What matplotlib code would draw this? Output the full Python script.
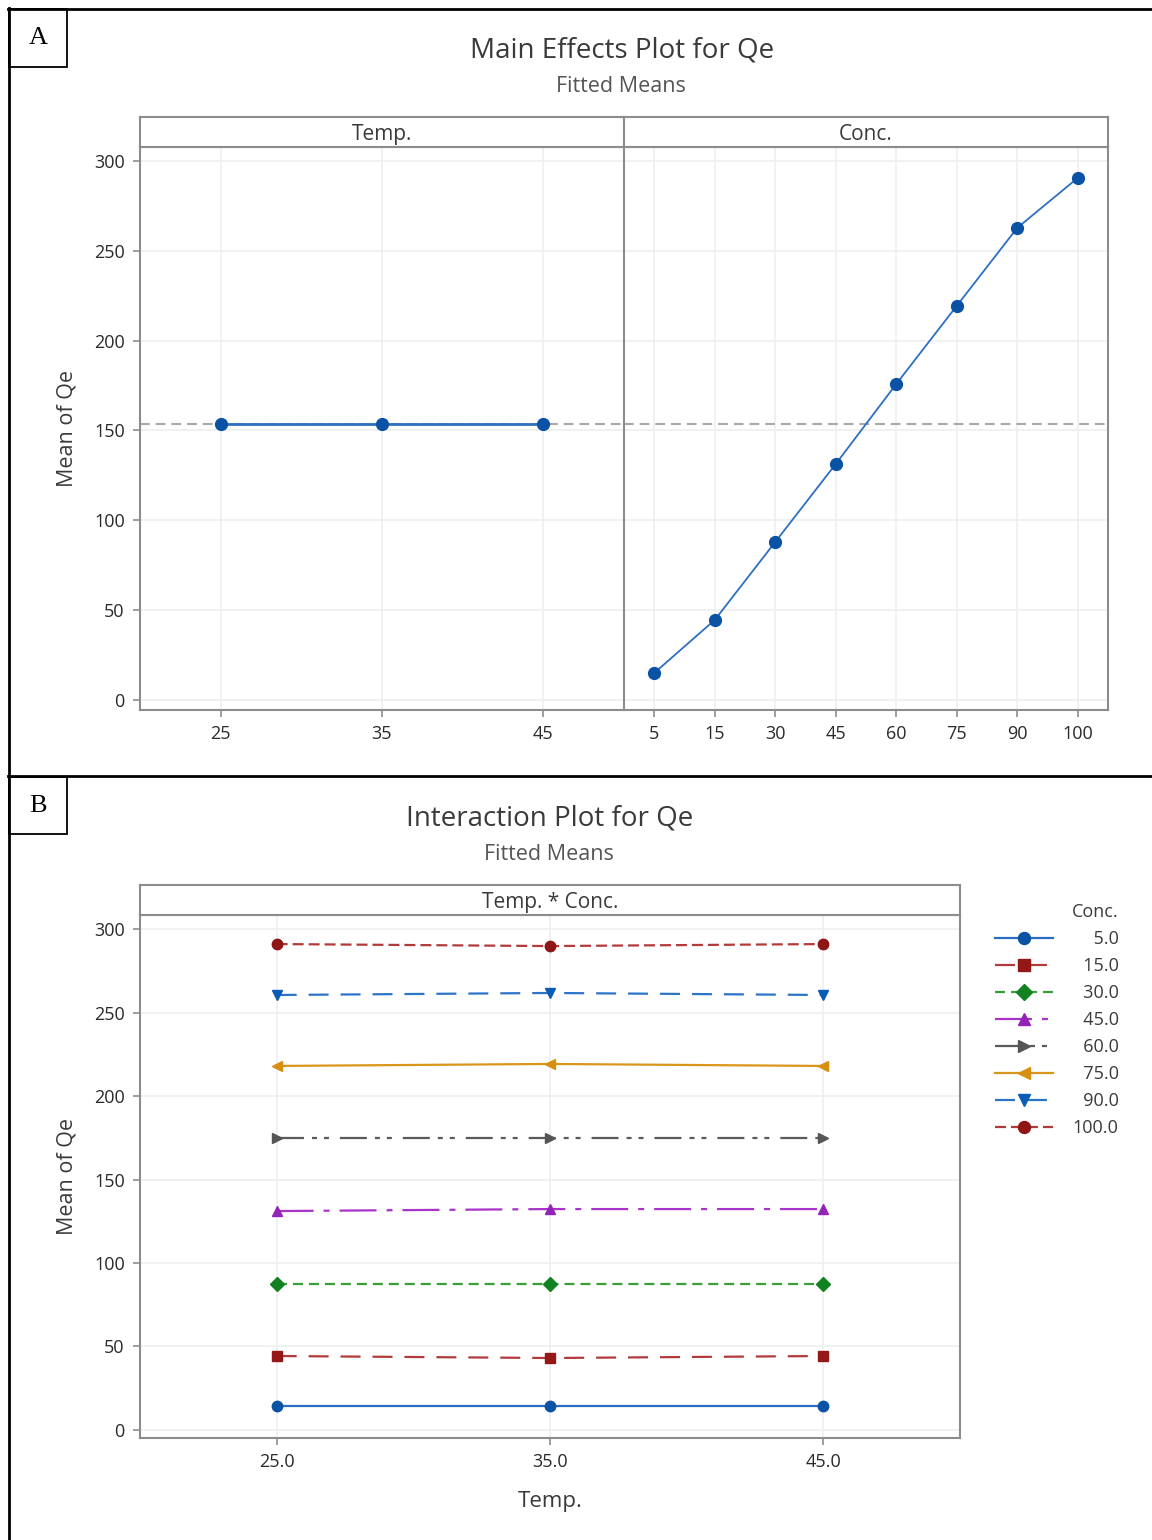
import numpy as np
import matplotlib
matplotlib.use("Agg")
import matplotlib.pyplot as plt
from matplotlib.lines import Line2D
from matplotlib.patches import Rectangle

plt.rcParams['font.family'] = ['Open Sans', 'DejaVu Sans']
plt.rcParams['lines.scale_dashes'] = False

# ---- data ----
temp_levels = ["25", "35", "45"]
temp_means = [153.5, 153.5, 153.5]

conc_levels = ["5", "15", "30", "45", "60", "75", "90", "100"]
conc_means = [15.0, 44.5, 87.9, 131.3, 175.8, 219.3, 262.7, 290.5]

inter_temps = ["25.0", "35.0", "45.0"]
inter_concs = ["5.0", "15.0", "30.0", "45.0", "60.0", "75.0", "90.0", "100.0"]
inter_values = {
    "5.0": [14.6, 14.6, 14.6],
    "15.0": [44.3, 43.1, 44.3],
    "30.0": [87.4, 87.4, 87.4],
    "45.0": [131.1, 132.3, 132.3],
    "60.0": [174.9, 174.9, 174.9],
    "75.0": [218.0, 219.2, 218.0],
    "90.0": [260.5, 261.7, 260.5],
    "100.0": [291.0, 289.8, 291.0],
}

# ---- styles for the interaction series ----
styles = {
    "5.0": dict(color="#2b6cc0", mfc="#0a52a4", marker="o", ls="-"),
    "15.0": dict(color="#b23a3a", mfc="#951818", marker="s", ls=(0, (14.4, 8.6))),
    "30.0": dict(color="#3a9e3a", mfc="#11821f", marker="D", ls=(0, (7.2, 4.3))),
    "45.0": dict(color="#a833c8", mfc="#9424b8", marker="^", ls=(0, (26.6, 7.2, 4.3, 7.2))),
    "60.0": dict(color="#5a5a5a", mfc="#555555", marker=">", ls=(0, (19.4, 5.8, 3.6, 5.0, 3.6, 7.9))),
    "75.0": dict(color="#d9961a", mfc="#d78f10", marker="<", ls="-"),
    "90.0": dict(color="#2d74c6", mfc="#0a5cb4", marker="v", ls=(0, (14.4, 8.6))),
    "100.0": dict(color="#b23a3a", mfc="#8e1616", marker="o", ls=(0, (7.9, 3.6))),
}

W, H = 1152, 1540
GRID = "#efefef"
SPINE = "#8c8c8c"
TXT = "#3a3a3a"


def rect(x0, y0, x1, y1):
    return [x0 / W, 1 - y1 / H, (x1 - x0) / W, (y1 - y0) / H]


def style_axes(ax):
    for s in ax.spines.values():
        s.set_color(SPINE)
        s.set_linewidth(1.5)
    ax.tick_params(colors=SPINE, labelcolor="#2a2a2a", labelsize=13, length=5, width=1.2, pad=6)
    ax.grid(True, color=GRID, lw=1.2)
    ax.set_axisbelow(True)


def strip(r, label):
    s = fig.add_axes(rect(*r))
    s.set_xticks([])
    s.set_yticks([])
    for sp in s.spines.values():
        sp.set_color(SPINE)
        sp.set_linewidth(1.5)
    s.text(0.5, 0.42, label, ha="center", va="center", fontsize=15, color=TXT, transform=s.transAxes)
    return s


fig = plt.figure(figsize=(W / 100, H / 100), dpi=100)

# outer frames and panel labels
fig.add_artist(Line2D([9 / W, 9 / W], [0, 1 - 8 / H], color="black", lw=2, transform=fig.transFigure))
fig.add_artist(Line2D([8 / W, 1], [1 - 9 / H, 1 - 9 / H], color="black", lw=2, transform=fig.transFigure))
fig.add_artist(Line2D([8 / W, 1], [1 - 776 / H, 1 - 776 / H], color="black", lw=2, transform=fig.transFigure))
for (x0, y0, x1, y1, lab) in [(9, 9, 67, 67, "A"), (9, 777, 67, 834, "B")]:
    fig.add_artist(Rectangle((x0 / W, 1 - y1 / H), (x1 - x0) / W, (y1 - y0) / H, fill=False,
                             ec="black", lw=1.3, transform=fig.transFigure))
    fig.text((x0 + x1) / 2 / W, 1 - (y0 + y1) / 2 / H, lab, ha="center", va="center",
             fontsize=19, family="Liberation Serif", color="black")

# ---------------- A: main effects ----------------
fig.text(622 / W, 1 - 50 / H, "Main Effects Plot for Qe", ha="center", va="center", fontsize=20, color=TXT)
fig.text(621 / W, 1 - 86 / H, "Fitted Means", ha="center", va="center", fontsize=15.5, color="#555555")

ax1 = fig.add_axes(rect(140, 147, 624, 710))
ax2 = fig.add_axes(rect(624, 147, 1108, 710), sharey=ax1)
strip((140, 117, 624, 147), "Temp.")
strip((624, 117, 1108, 147), "Conc.")

overall = np.mean(conc_means)
for ax, levels, means, lw in [(ax1, temp_levels, temp_means, 2.0), (ax2, conc_levels, conc_means, 1.3)]:
    style_axes(ax)
    x = np.arange(len(levels))
    ax.axhline(overall, color="#a8a8a8", lw=1.5, ls=(0, (7, 4.3)), zorder=1)
    ax.plot(x, means, color="#2d6fc1", lw=lw, marker="o", ms=8.5, mfc="#0a52a4", mec="#0a52a4", zorder=3)
    ax.set_xticks(x)
    ax.set_xticklabels(levels)
    ax.set_xlim(-0.5, len(levels) - 0.5)

ax1.set_ylim(-5.6, 307.7)
ax1.set_yticks(np.arange(0, 301, 50))
ax1.set_ylabel("Mean of Qe", fontsize=15.5, color=TXT, labelpad=12)
ax2.tick_params(axis="y", left=False, labelleft=False)
ax1.spines["right"].set_visible(False)

# ---------------- B: interaction ----------------
fig.text(550 / W, 1 - 818 / H, "Interaction Plot for Qe", ha="center", va="center", fontsize=20, color=TXT)
fig.text(549 / W, 1 - 854 / H, "Fitted Means", ha="center", va="center", fontsize=15.5, color="#555555")

ax3 = fig.add_axes(rect(140, 915, 960, 1438))
strip((140, 885, 960, 915), "Temp. * Conc.")
style_axes(ax3)
xt = np.arange(len(inter_temps))
handles = []
for c in inter_concs:
    st = styles[c]
    line, = ax3.plot(xt, inter_values[c], color=st["color"], ls=st["ls"], lw=1.6,
                     marker=st["marker"], ms=7.5 if st["marker"] != "D" else 7, mfc=st["mfc"], mec=st["mfc"],
                     label="\u2007" * (5 - len(c)) + c)
    handles.append(line)
ax3.set_xticks(xt)
ax3.set_xticklabels(inter_temps)
ax3.set_xlim(-0.5, len(inter_temps) - 0.5)
ax3.set_ylim(-4.8, 308.4)
ax3.set_yticks(np.arange(0, 301, 50))
ax3.set_ylabel("Mean of Qe", fontsize=15.5, color=TXT, labelpad=12)
ax3.set_xlabel("Temp.", fontsize=16, color=TXT, labelpad=14)

leg = fig.legend(handles=handles, title="Conc.", loc="upper left",
                 bbox_to_anchor=(988 / W, 1 - 896 / H), frameon=False, fontsize=13,
                 title_fontsize=13, handlelength=3.2, labelspacing=0.50, handletextpad=1.1,
                 alignment="right", borderaxespad=0, markerscale=1.15)
for t in leg.get_texts():
    t.set_color(TXT)
leg.get_title().set_color(TXT)

fig.savefig("out.png", dpi=100)
